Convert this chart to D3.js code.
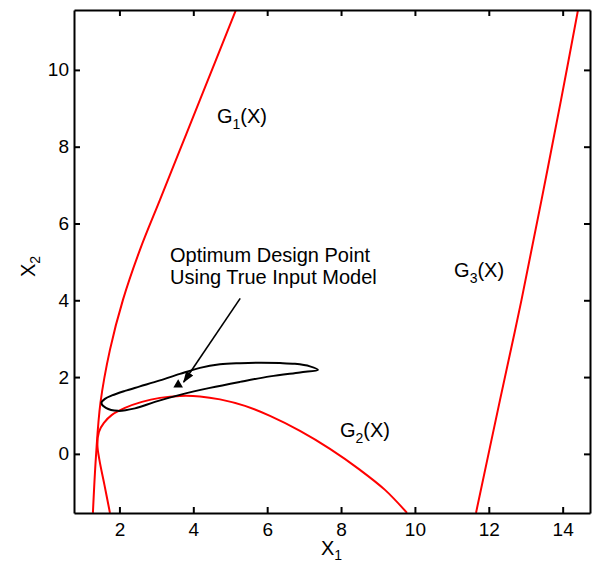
<!DOCTYPE html>
<html>
<head>
<meta charset="utf-8">
<script src="https://cdn.jsdelivr.net/npm/d3@7"></script>
<style>
  body { margin: 0; background: #fff; }
  svg { display: block; font-family: Arial, "Liberation Sans", sans-serif; }
</style>
</head>
<body>
<svg id="chart" width="592" height="565"></svg>
<script>
// ---- data ----
const xTicks = [2, 4, 6, 8, 10, 12, 14];
const yTicks = [0, 2, 4, 6, 8, 10];

const g1X = [1.282, 1.364, 1.486, 1.743, 2.095, 2.555, 3.097, 3.638, 4.180, 5.155];
const g1Y = [-1.536, -0.078, 1.328, 2.708, 4.010, 5.313, 6.615, 7.917, 9.219, 11.563];

const g2X = [1.743, 1.594, 1.458, 1.404, 1.445, 1.580, 1.797, 2.149, 2.609, 3.097, 3.638, 4.180, 4.722, 5.399, 6.076, 6.888, 7.700, 8.513, 9.190, 9.786];
const g2Y = [-1.536, -0.807, -0.156, 0.234, 0.573, 0.807, 1.016, 1.198, 1.354, 1.458, 1.510, 1.497, 1.419, 1.250, 0.990, 0.599, 0.130, -0.417, -0.938, -1.536];

const g3X = [11.654, 12.304, 12.886, 13.428, 13.956, 14.416];
const g3Y = [-1.536, 1.406, 4.010, 6.615, 9.219, 11.563];

const contourX = [1.513, 1.607, 1.797, 2.149, 2.555, 3.097, 3.638, 4.180, 4.722, 5.264, 5.805, 6.347, 6.752, 7.158, 7.375,
                  6.888, 6.076, 5.263, 4.451, 3.638, 2.961, 2.420, 1.959, 1.634];
const contourY = [1.328, 1.432, 1.523, 1.641, 1.758, 1.914, 2.083, 2.240, 2.331, 2.362, 2.375, 2.365, 2.344, 2.279, 2.188,
                  2.122, 2.018, 1.875, 1.719, 1.536, 1.354, 1.185, 1.120, 1.198];

const optimum = [3.59, 1.80];
const arrowFrom = [5.27, 4.05];
const arrowTo = [3.74, 1.87];

const labels = [
  { base: "G", sub: "1", tail: "(X)", x: 4.64, y: 8.62 },
  { base: "G", sub: "2", tail: "(X)", x: 7.97, y: 0.44 },
  { base: "G", sub: "3", tail: "(X)", x: 11.06, y: 4.61 }
];
const noteLines = ["Optimum Design Point", "Using True Input Model"];
const notePos = [3.37, 5.01];

// ---- layout ----
const mLeft = 74, mRight = 590, mTop = 10, mBottom = 513;
const xDomain = [0.77, 14.74];
const yDomain = [-1.54, 11.56];

const svg = d3.select("#chart");
const x = d3.scaleLinear().domain(xDomain).range([mLeft, mRight]);
const y = d3.scaleLinear().domain(yDomain).range([mBottom, mTop]);

const defs = svg.append("defs");
defs.append("clipPath").attr("id", "clip")
  .append("rect").attr("x", mLeft).attr("y", mTop)
  .attr("width", mRight - mLeft).attr("height", mBottom - mTop);

defs.append("marker")
  .attr("id", "arrowhead").attr("viewBox", "0 0 10 10")
  .attr("refX", 9).attr("refY", 5)
  .attr("markerWidth", 12).attr("markerHeight", 12)
  .attr("markerUnits", "userSpaceOnUse")
  .attr("orient", "auto")
  .append("path").attr("d", "M0,1.5 L10,5 L0,8.5 Z").attr("fill", "#000");

const plot = svg.append("g").attr("clip-path", "url(#clip)");

const line = d3.line().x(d => x(d[0])).y(d => y(d[1])).curve(d3.curveCatmullRom.alpha(0.5));
const closed = d3.line().x(d => x(d[0])).y(d => y(d[1])).curve(d3.curveCatmullRomClosed.alpha(0.5));

const zip = (a, b) => a.map((v, i) => [v, b[i]]);

[[g1X, g1Y], [g2X, g2Y], [g3X, g3Y]].forEach(([xs, ys]) => {
  plot.append("path").datum(zip(xs, ys))
    .attr("d", line).attr("fill", "none")
    .attr("stroke", "#ff0000").attr("stroke-width", 2);
});

plot.append("path").datum(zip(contourX, contourY))
  .attr("d", closed).attr("fill", "none")
  .attr("stroke", "#000").attr("stroke-width", 2);

// optimum triangle
plot.append("path")
  .attr("d", d3.symbol().type(d3.symbolTriangle).size(40))
  .attr("transform", `translate(${x(optimum[0])},${y(optimum[1])})`)
  .attr("fill", "#000");

// arrow
plot.append("line")
  .attr("x1", x(arrowFrom[0])).attr("y1", y(arrowFrom[1]))
  .attr("x2", x(arrowTo[0])).attr("y2", y(arrowTo[1]))
  .attr("stroke", "#000").attr("stroke-width", 1.6)
  .attr("marker-end", "url(#arrowhead)");

// ---- axes ----
const axisStyle = g => {
  g.selectAll(".domain").attr("stroke", "#000").attr("stroke-width", 2);
  g.selectAll(".tick line").attr("stroke", "#000").attr("stroke-width", 2);
  g.selectAll(".tick text").attr("fill", "#000").style("font-size", "19px")
    .style("font-family", "Arial, 'Liberation Sans', sans-serif");
};

svg.append("g").attr("transform", `translate(0,${mBottom})`)
  .call(d3.axisBottom(x).tickValues(xTicks).tickSizeInner(-6).tickSizeOuter(0).tickPadding(10).tickFormat(d3.format("d")))
  .call(axisStyle);
svg.append("g").attr("transform", `translate(0,${mTop})`)
  .call(d3.axisTop(x).tickValues(xTicks).tickSizeInner(-6).tickSizeOuter(0).tickFormat(""))
  .call(axisStyle);
svg.append("g").attr("transform", `translate(${mLeft},0)`)
  .call(d3.axisLeft(y).tickValues(yTicks).tickSizeInner(-6).tickSizeOuter(0).tickPadding(5).tickFormat(d3.format("d")))
  .call(axisStyle);
svg.append("g").attr("transform", `translate(${mRight},0)`)
  .call(d3.axisRight(y).tickValues(yTicks).tickSizeInner(-6).tickSizeOuter(0).tickFormat(""))
  .call(axisStyle);

// axis titles
const xt = svg.append("text").attr("x", 321).attr("y", 555)
  .style("font-size", "20px").attr("fill", "#000");
xt.append("tspan").text("X");
xt.append("tspan").attr("dy", 5).style("font-size", "14px").text("1");

const yt = svg.append("text").attr("transform", "translate(35,277) rotate(-90)")
  .style("font-size", "20px").attr("fill", "#000");
yt.append("tspan").text("X");
yt.append("tspan").attr("dy", 5).style("font-size", "14px").text("2");

// curve labels
labels.forEach(l => {
  const t = svg.append("text").attr("x", x(l.x)).attr("y", y(l.y))
    .style("font-size", "20px").attr("fill", "#000");
  t.append("tspan").text(l.base);
  t.append("tspan").attr("dy", 6).style("font-size", "14px").text(l.sub);
  t.append("tspan").attr("dy", -6).text(l.tail);
});

// annotation
const note = svg.append("text").attr("x", x(notePos[0])).attr("y", y(notePos[1]))
  .style("font-size", "20px").attr("fill", "#000");
noteLines.forEach((s, i) => {
  note.append("tspan").attr("x", x(notePos[0])).attr("dy", i === 0 ? 0 : 22).text(s);
});
</script>
</body>
</html>
